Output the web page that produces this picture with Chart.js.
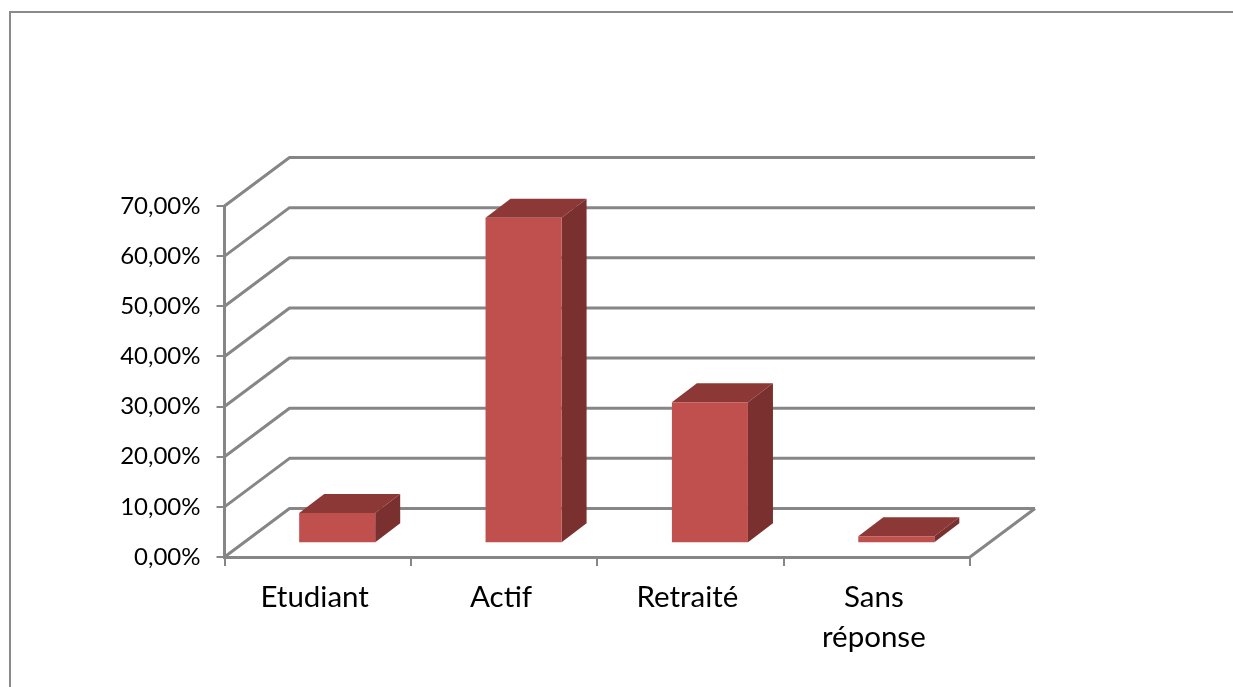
<!DOCTYPE html>
<html lang="fr">
<head>
<meta charset="utf-8">
<title>Répartition</title>
<script src="https://cdn.jsdelivr.net/npm/chart.js@4"></script>
<style>
html,body{margin:0;padding:0;background:#fff;overflow:hidden}
canvas{display:block}
</style>
</head>
<body>
<canvas id="c" width="1233" height="687"></canvas>
<script>
const categories = ["Etudiant", "Actif", "Retraité", ["Sans", "réponse"]];
const seriesValues = [6.0, 64.9, 28.1, 1.4];
const axisMax = 70;
const axisStep = 10;

const GRID = "#868686", FRONT = "#C0504D", TOP = "#8C3836", SIDE = "#7A302E";
const FONT = "Lato, Carlito, sans-serif";
const wallDX = 65, wallDY = 48.5;   // depth of the 3D walls
const barDX = 25, barDY = 19;       // depth of each 3D bar
const barShiftX = 19.5, barShiftY = -13.8;

const pseudo3D = {
  id: "pseudo3D",
  beforeDraw(chart) {
    const g = chart.ctx;
    g.save();
    g.strokeStyle = "#8a8a8a";
    g.lineWidth = 2;
    g.beginPath();
    g.moveTo(10, 687); g.lineTo(10, 12); g.lineTo(1233, 12);
    g.stroke();
    g.restore();
  },
  beforeDatasetsDraw(chart) {
    const g = chart.ctx, y = chart.scales.y, a = chart.chartArea;
    g.save();
    g.strokeStyle = GRID;
    g.lineWidth = 3;
    g.lineJoin = "round";
    y.ticks.forEach(t => {
      const py = y.getPixelForValue(t.value);
      g.beginPath();
      g.moveTo(a.left, py);
      g.lineTo(a.left + wallDX, py - wallDY);
      g.lineTo(a.right + wallDX, py - wallDY);
      g.stroke();
    });
    const base = y.getPixelForValue(0);
    g.beginPath();
    g.moveTo(a.right, base);
    g.lineTo(a.right + wallDX, base - wallDY);
    g.stroke();
    g.restore();

    // Bars share one offset into the 3D floor; the offset is undone after they draw.
    g.save();
    g.translate(barShiftX, barShiftY);
    chart.getDatasetMeta(0).data.forEach(b => {
      const p = b.getProps(["x", "y", "base", "width"], true);
      const l = p.x - p.width / 2, r = p.x + p.width / 2;
      g.fillStyle = TOP;
      g.beginPath();
      g.moveTo(l, p.y);
      g.lineTo(l + barDX, p.y - barDY);
      g.lineTo(r + barDX, p.y - barDY);
      g.lineTo(r, p.y);
      g.closePath();
      g.fill();
      g.fillStyle = SIDE;
      g.beginPath();
      g.moveTo(r, p.y);
      g.lineTo(r + barDX, p.y - barDY);
      g.lineTo(r + barDX, p.base - barDY);
      g.lineTo(r, p.base);
      g.closePath();
      g.fill();
    });
  },
  afterDatasetsDraw(chart) {
    chart.ctx.restore();
  }
};

new Chart(document.getElementById("c"), {
  type: "bar",
  data: {
    labels: categories,
    datasets: [{
      data: seriesValues,
      backgroundColor: FRONT,
      borderWidth: 0,
      categoryPercentage: 1,
      barPercentage: 0.408,
      clip: false
    }]
  },
  plugins: [pseudo3D],
  options: {
    responsive: false,
    animation: false,
    events: [],
    layout: { padding: { top: 206, right: 263, bottom: 0, left: 0 } },
    plugins: { legend: { display: false }, title: { display: false }, tooltip: { enabled: false } },
    scales: {
      x: {
        afterFit(s) { s.height = 130; },
        border: { display: true, color: GRID, width: 3 },
        grid: { display: true, drawOnChartArea: false, color: GRID, lineWidth: 2, tickLength: 9, offset: true },
        ticks: {
          color: "#000",
          font: { family: FONT, size: 29.5, lineHeight: 1.35 },
          padding: 12,
          labelOffset: -3,
          maxRotation: 0,
          autoSkip: false
        }
      },
      y: {
        min: 0,
        max: axisMax,
        afterFit(s) { s.width = 224.5; },
        border: { display: true, color: GRID, width: 3 },
        grid: { display: true, drawOnChartArea: false, color: GRID, lineWidth: 2, tickLength: 8 },
        ticks: {
          stepSize: axisStep,
          color: "#000",
          font: { family: FONT, size: 24 },
          padding: 16,
          callback: v => v.toFixed(2).replace(".", ",") + "%"
        }
      }
    }
  }
});
</script>
</body>
</html>
